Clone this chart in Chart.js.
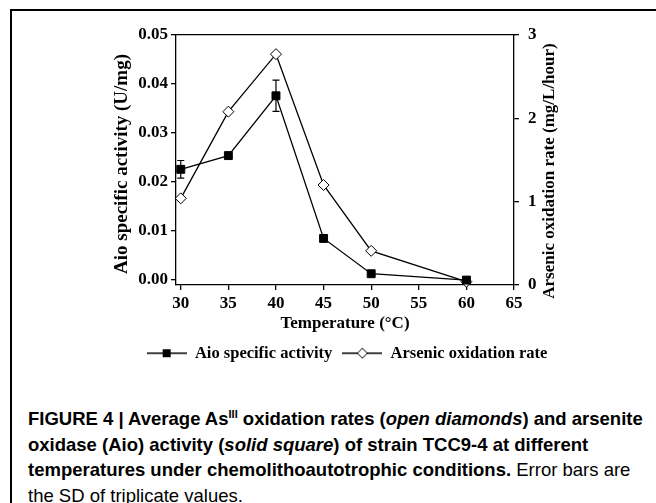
<!DOCTYPE html>
<html>
<head>
<meta charset="utf-8">
<script src="https://cdn.jsdelivr.net/npm/chart.js@4.4.1/dist/chart.umd.min.js"></script>
<style>
  html, body { margin: 0; padding: 0; background: #fff; }
  body { width: 656px; height: 503px; position: relative; overflow: hidden; }
  #frame { position: absolute; left: 10px; top: 9px; width: 700px; height: 600px;
           border-left: 2px solid #000; border-top: 2px solid #000; }
  #wrap { position: absolute; left: 0; top: 0; width: 656px; height: 387px; }
  #caption { position: absolute; left: 28px; top: 406px; width: 628px;
             font-family: 'Liberation Sans', Arial, sans-serif; font-size: 18.5px;
             line-height: 25.5px; color: #000; white-space: nowrap; }
  #caption b { font-weight: bold; }
  #caption sup { font-size: 11px; line-height: 0; vertical-align: 7px; }
</style>
</head>
<body>
<div id="frame"></div>
<div id="wrap"><canvas id="tempChart"></canvas></div>
<div id="caption">
  <b>FIGURE 4 | Average As<sup>III</sup> oxidation rates (<i>open diamonds</i>) and arsenite<br>
  oxidase (Aio) activity (<i>solid square</i>) of strain TCC9-4 at different<br>
  temperatures under chemolithoautotrophic conditions.</b> Error bars are<br>
  the SD of triplicate values.
</div>
<script>
// данные
const temperatures = [30, 35, 40, 45, 50, 60];
const aioActivity = [0.0226, 0.0254, 0.0376, 0.0085, 0.0013, 0.0000];
const aioSd = [0.0018, 0, 0.0032, 0, 0.0004, 0];
const arsenicRate = [1.04, 2.08, 2.77, 1.20, 0.41, 0.04];

const xTicks = [30, 35, 40, 45, 50, 55, 60, 65];
const leftTicks = [0, 0.01, 0.02, 0.03, 0.04, 0.05];
const rightTicks = [0, 1, 2, 3];

Chart.defaults.font.family = "'Liberation Serif', 'Times New Roman', serif";
Chart.defaults.font.weight = 'bold';
Chart.defaults.font.size = 17;
Chart.defaults.color = '#000';

// иконки легенды: линия + маркер
function legendIcon(style) {
    const c = document.createElement('canvas');
    c.width = 40;
    c.height = 12;
    const ctx = c.getContext('2d');
    ctx.strokeStyle = '#000';
    ctx.lineWidth = 1.3;
    ctx.beginPath();
    ctx.moveTo(0, 6);
    ctx.lineTo(40, 6);
    ctx.stroke();
    ctx.beginPath();
    if (style === 'square') {
        ctx.fillStyle = '#000';
        ctx.fillRect(16, 2, 8, 8);
    } else {
        ctx.fillStyle = '#fff';
        ctx.moveTo(15, 6);
        ctx.lineTo(20, 1);
        ctx.lineTo(25, 6);
        ctx.lineTo(20, 11);
        ctx.closePath();
        ctx.fill();
        ctx.lineWidth = 1;
        ctx.stroke();
    }
    return c;
}
const icons = [legendIcon('square'), legendIcon('diamond')];

// планки погрешностей
const errorBars = {
    id: 'errorBars',
    beforeDatasetsDraw(chart) {
        const ctx = chart.ctx;
        const x = chart.scales.x;
        const y = chart.scales.y;
        ctx.save();
        ctx.strokeStyle = '#000';
        ctx.lineWidth = 1.2;
        temperatures.forEach((t, i) => {
            if (!aioSd[i]) return;
            const px = x.getPixelForValue(t);
            const top = y.getPixelForValue(aioActivity[i] + aioSd[i]);
            const bot = y.getPixelForValue(aioActivity[i] - aioSd[i]);
            ctx.beginPath();
            ctx.moveTo(px, top);
            ctx.lineTo(px, bot);
            ctx.moveTo(px - 3.5, top);
            ctx.lineTo(px + 3.5, top);
            ctx.moveTo(px - 3.5, bot);
            ctx.lineTo(px + 3.5, bot);
            ctx.stroke();
        });
        ctx.restore();
    }
};

// подписи вертикальных осей (снизу вверх)
function drawVerticalTitle(ctx, text, x, y, size) {
    ctx.save();
    ctx.translate(x, y);
    ctx.rotate(-Math.PI / 2);
    ctx.font = "bold " + size + "px 'Liberation Serif', 'Times New Roman', serif";
    ctx.fillStyle = '#000';
    ctx.textAlign = 'center';
    ctx.textBaseline = 'middle';
    ctx.fillText(text, 0, 0);
    ctx.restore();
}

const axisTitles = {
    id: 'axisTitles',
    afterDraw(chart) {
        const area = chart.chartArea;
        drawVerticalTitle(chart.ctx, 'Aio specific activity (U/mg)', chart.scales.y.left + 84, area.top + 129, 19);
        drawVerticalTitle(chart.ctx, 'Arsenic oxidation rate (mg/L/hour)', chart.scales.y1.left + 36, area.top + 136, 17);
    }
};

const axisLine = { display: true, color: '#000', width: 1.3 };
const tickGrid = { drawOnChartArea: false, color: '#000', lineWidth: 1.3, tickLength: 5 };

const tempCtx = document.getElementById('tempChart').getContext('2d');
const tempChart = new Chart(tempCtx, {
    type: 'line',
    data: {
        datasets: [
            {
                label: 'Aio specific activity',
                data: temperatures.map((t, i) => ({ x: t, y: aioActivity[i] })),
                yAxisID: 'y',
                borderColor: '#000',
                backgroundColor: '#000',
                borderWidth: 1.3,
                pointStyle: 'rect',
                pointRadius: 5.6,
                pointBorderWidth: 1,
                tension: 0,
                clip: false
            },
            {
                label: 'Arsenic oxidation rate',
                data: temperatures.map((t, i) => ({ x: t, y: arsenicRate[i] })),
                yAxisID: 'y1',
                borderColor: '#000',
                backgroundColor: '#fff',
                borderWidth: 1.3,
                pointStyle: 'rectRot',
                pointRadius: 5.5,
                pointBorderWidth: 1,
                tension: 0,
                clip: false
            }
        ]
    },
    options: {
        responsive: true,
        maintainAspectRatio: false,
        animation: false,
        layout: { padding: { left: 38, top: 35, right: 0, bottom: 15.5 } },
        scales: {
            x: {
                type: 'linear',
                position: 'bottom',
                min: 29.5,
                max: 65,
                afterBuildTicks: s => { s.ticks = xTicks.map(v => ({ value: v })); },
                afterFit: s => { s.height = 50; },
                border: axisLine,
                grid: tickGrid,
                ticks: { padding: 3 },
                title: { display: true, text: 'Temperature (°C)', padding: { top: 0, bottom: 1 } }
            },
            x2: {
                type: 'linear',
                position: 'top',
                min: 29.5,
                max: 65,
                afterFit: s => { s.height = 0; },
                border: axisLine,
                grid: { drawOnChartArea: false, drawTicks: false },
                ticks: { display: false }
            },
            y: {
                position: 'left',
                min: -0.001,
                max: 0.05,
                afterBuildTicks: s => { s.ticks = leftTicks.map(v => ({ value: v })); },
                afterFit: s => { s.width = 138; },
                border: axisLine,
                grid: tickGrid,
                ticks: { padding: 3, callback: v => v.toFixed(2) }
            },
            y1: {
                position: 'right',
                min: 0,
                max: 3,
                afterBuildTicks: s => { s.ticks = rightTicks.map(v => ({ value: v })); },
                afterFit: s => { s.width = 142; },
                border: axisLine,
                grid: tickGrid,
                ticks: { padding: 9 }
            }
        },
        plugins: {
            tooltip: { enabled: false },
            legend: {
                position: 'bottom',
                labels: {
                    usePointStyle: true,
                    pointStyleWidth: 40,
                    padding: 10,
                    font: { size: 16.5 },
                    generateLabels: chart => chart.data.datasets.map((ds, i) => ({
                        text: ds.label,
                        pointStyle: icons[i],
                        datasetIndex: i,
                        fontColor: '#000',
                        lineWidth: 0,
                        hidden: false
                    }))
                }
            }
        }
    },
    plugins: [errorBars, axisTitles]
});
</script>
</body>
</html>
